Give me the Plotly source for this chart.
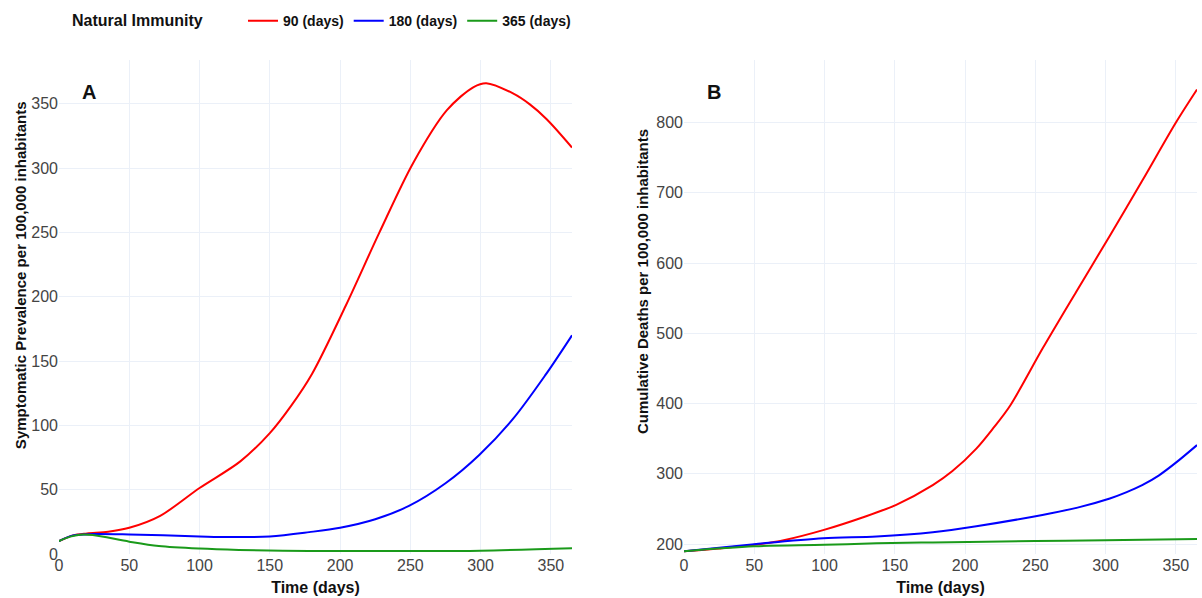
import plotly.graph_objects as go

# ---- Panel A: Symptomatic prevalence ----
a_red_t = [0, 10, 20, 35, 50, 72, 100, 129, 150, 165, 180, 204, 228, 252, 276, 295, 304, 323, 335, 347, 365]
a_red_v = [10, 14.5, 16, 17.3, 20.4, 29.7, 51.3, 72, 94, 115, 140, 193, 250, 304, 345, 363, 366, 358, 349.5, 338, 316]
a_blue_t = [0, 10, 25, 50, 100, 114, 150, 178, 200, 225, 249, 275, 299, 323, 346, 365]
a_blue_v = [10, 14.5, 15.5, 15.2, 13.7, 13.2, 13.7, 17, 20.4, 27, 37.4, 55, 77, 105, 139, 170]
a_green_t = [0, 8, 15, 24, 50, 71, 100, 128, 178, 250, 300, 365]
a_green_v = [10, 13.5, 15, 14.7, 9.6, 6.2, 4.2, 3.2, 2.4, 2.3, 2.6, 4.4]

# ---- Panel B: Cumulative deaths ----
b_red_t = [0, 25, 50, 71, 99, 127, 151, 177, 191, 208, 220, 232, 255, 279, 303, 326, 350, 365]
b_red_v = [190, 194, 199, 205.7, 220, 238, 256, 284, 304, 336, 365, 397, 478, 559, 639, 717, 800, 847]
b_blue_t = [0, 50, 99, 137, 177, 208, 255, 280, 303, 315, 326, 338, 350, 365]
b_blue_v = [190, 200, 208.5, 211, 217, 225.5, 241.6, 252, 265, 274, 284, 298, 316, 341]
b_green_t = [0, 50, 100, 137, 177, 250, 300, 365]
b_green_v = [190, 197, 199, 201.4, 202.4, 204.5, 205.5, 207.5]

series_names = ["90 (days)", "180 (days)", "365 (days)"]
colors = ["#ff0000", "#0000ff", "#1a9a1a"]

FONT = "Liberation Sans, Arial, sans-serif"

fig = go.Figure()
a_data = [(a_red_t, a_red_v), (a_blue_t, a_blue_v), (a_green_t, a_green_v)]
b_data = [(b_red_t, b_red_v), (b_blue_t, b_blue_v), (b_green_t, b_green_v)]
for (t, v), name, c in zip(a_data, series_names, colors):
    fig.add_trace(go.Scatter(x=t, y=v, mode="lines", name="<b>" + name + "</b>", legendgroup=name,
                             line=dict(color=c, width=2, shape="spline", smoothing=0.9),
                             xaxis="x", yaxis="y"))
for (t, v), name, c in zip(b_data, series_names, colors):
    fig.add_trace(go.Scatter(x=t, y=v, mode="lines", name="<b>" + name + "</b>", legendgroup=name,
                             showlegend=False,
                             line=dict(color=c, width=2, shape="spline", smoothing=0.9),
                             xaxis="x2", yaxis="y2"))

grid = "#EBF0F8"
axis_common = dict(gridcolor=grid, zeroline=False, showline=False, ticks="",
                   tickfont=dict(size=16, color="#444", family=FONT),
                   title_font=dict(size=16, color="#111", family=FONT))

L, R, T, B = 59, 5, 60, 42
PW, PH = 1202 - L - R, 598 - T - B


def px(xp):
    return (xp - L) / PW


def py(yp):
    return (598 - B - yp) / PH


title_font = dict(size=15, color="#111", family=FONT)

fig.update_layout(
    width=1202, height=598,
    margin=dict(l=L, r=R, t=T, b=B),
    plot_bgcolor="white", paper_bgcolor="white",
    font=dict(family=FONT),
    xaxis=dict(domain=[0, px(572)], range=[0, 365], dtick=50,
               title=dict(text="<b>Time (days)</b>", standoff=8), **axis_common),
    yaxis=dict(domain=[0, 1], range=[0, 384], dtick=50, anchor="x", **axis_common),
    xaxis2=dict(domain=[px(684), 1], range=[0, 365], dtick=50, anchor="y2",
                title=dict(text="<b>Time (days)</b>", standoff=8), **axis_common),
    yaxis2=dict(domain=[0, 1], range=[186, 889], dtick=100, anchor="x2", **axis_common),
    showlegend=True,
    legend=dict(orientation="h", x=px(243), xanchor="left", y=py(21), yanchor="middle",
                font=dict(size=14, color="#111", family=FONT), bgcolor="rgba(0,0,0,0)"),
    annotations=[
        dict(text="<b>Natural Immunity</b>", x=px(70), y=py(20), xref="paper", yref="paper",
             xanchor="left", yanchor="middle", showarrow=False,
             font=dict(size=16, color="#111", family=FONT)),
        dict(text="<b>Symptomatic Prevalence per 100,000 inhabitants</b>", x=px(20), y=py(276),
             xref="paper", yref="paper", textangle=-90, showarrow=False,
             xanchor="center", yanchor="middle", font=title_font),
        dict(text="<b>Cumulative Deaths per 100,000 inhabitants</b>", x=px(642), y=py(283),
             xref="paper", yref="paper", textangle=-90, showarrow=False,
             xanchor="center", yanchor="middle", font=title_font),
        dict(text="<b>A</b>", x=21, y=359, xref="x", yref="y", showarrow=False,
             font=dict(size=20, color="#111", family=FONT)),
        dict(text="<b>B</b>", x=21, y=843, xref="x2", yref="y2", showarrow=False,
             font=dict(size=20, color="#111", family=FONT)),
    ],
)
fig.write_html("out.html")
